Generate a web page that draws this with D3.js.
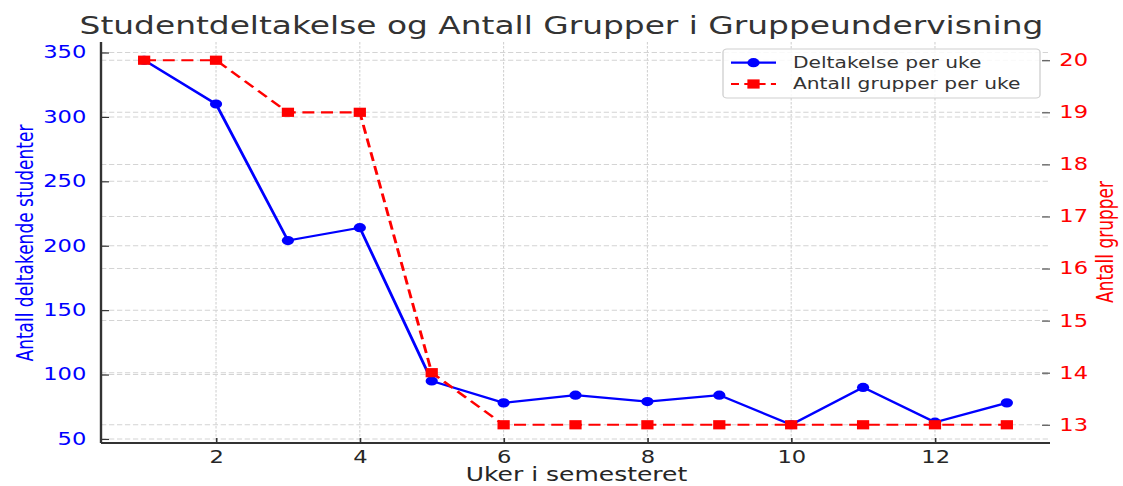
<!DOCTYPE html>
<html>
<head>
<meta charset="utf-8">
<script src="https://cdn.jsdelivr.net/npm/d3@7"></script>
<style>
  html, body { margin: 0; padding: 0; background: #fff; }
  svg { display: block; }
  text { font-family: "DejaVu Sans", sans-serif; }
</style>
</head>
<body>
<svg id="chart"></svg>
<script>
// data
const weeks = [1, 2, 3, 4, 5, 6, 7, 8, 9, 10, 11, 12, 13];
const deltakelse = [344, 310, 204, 214, 95, 78, 84, 79, 84, 61, 90, 63, 78];
const grupper = [20, 20, 19, 19, 14, 13, 13, 13, 13, 13, 13, 13, 13];
const xTicks = [2, 4, 6, 8, 10, 12];
const leftTicks = [50, 100, 150, 200, 250, 300, 350];
const rightTicks = [13, 14, 15, 16, 17, 18, 19, 20];

const W = 1123, H = 486;
const S = 1.33;              // bildet er strukket horisontalt
const X = px => px / S;      // fra ferdig piksel til viewBox-enhet

const pLeft = 101, pRight = 1050, pTop = 42, pBottom = 443;

const svg = d3.select("#chart")
  .attr("width", W)
  .attr("height", H)
  .attr("viewBox", `0 0 ${W / S} ${H}`)
  .attr("preserveAspectRatio", "none");

const x = d3.scaleLinear().domain([0.4, 13.6]).range([X(pLeft), X(pRight)]);
const yL = d3.scaleLinear().domain([46.85, 358.15]).range([pBottom, pTop]);
const yR = d3.scaleLinear().domain([12.65, 20.35]).range([pBottom, pTop]);

// rutenett
const grid = svg.append("g");
xTicks.forEach(t => {
  grid.append("line")
    .attr("x1", x(t)).attr("x2", x(t))
    .attr("y1", pTop).attr("y2", pBottom)
    .attr("stroke", "#d0d0d0").attr("stroke-width", 0.8)
    .attr("stroke-dasharray", "2.5,1.5");
});
leftTicks.forEach(t => {
  grid.append("line")
    .attr("x1", X(pLeft)).attr("x2", X(pRight))
    .attr("y1", yL(t)).attr("y2", yL(t))
    .attr("stroke", "#d4d4d4").attr("stroke-width", 1)
    .attr("stroke-dasharray", "4,2");
});
rightTicks.forEach(t => {
  grid.append("line")
    .attr("x1", X(pLeft)).attr("x2", X(pRight))
    .attr("y1", yR(t)).attr("y2", yR(t))
    .attr("stroke", "#d4d4d4").attr("stroke-width", 1)
    .attr("stroke-dasharray", "4,2");
});

// akser
const axL = svg.append("g")
  .attr("transform", `translate(${X(pLeft)},0)`)
  .call(d3.axisLeft(yL).tickValues(leftTicks).tickSize(-6).tickPadding(11));
axL.select(".domain").remove();
axL.selectAll(".tick line").attr("stroke", "#333").attr("stroke-width", 1.2);
axL.selectAll(".tick text").attr("fill", "#0000ff").attr("font-size", 17);

const axR = svg.append("g")
  .attr("transform", `translate(${X(pRight)},0)`)
  .call(d3.axisRight(yR).tickValues(rightTicks).tickSize(-6).tickPadding(7));
axR.select(".domain").remove();
axR.selectAll(".tick line").attr("stroke", "#555").attr("stroke-width", 1.2);
axR.selectAll(".tick text").attr("fill", "#ff0000").attr("font-size", 17);

const axB = svg.append("g")
  .attr("transform", `translate(0,${pBottom})`)
  .call(d3.axisBottom(x).tickValues(xTicks).tickSize(-5).tickPadding(8));
axB.select(".domain").remove();
axB.selectAll(".tick line").attr("stroke", "#333").attr("stroke-width", 1.2);
axB.selectAll(".tick text").attr("fill", "#262626").attr("font-size", 17);

// linjer
const lineL = d3.line().x((d, i) => x(weeks[i])).y(d => yL(d));
const lineR = d3.line().x((d, i) => x(weeks[i])).y(d => yR(d));

svg.append("path")
  .datum(deltakelse)
  .attr("d", lineL)
  .attr("fill", "none")
  .attr("stroke", "#0000ff")
  .attr("stroke-width", 2.2);
svg.selectAll(".pt-blue")
  .data(deltakelse)
  .join("ellipse")
  .attr("class", "pt-blue")
  .attr("cx", (d, i) => x(weeks[i]))
  .attr("cy", d => yL(d))
  .attr("rx", 4.6).attr("ry", 4.6)
  .attr("fill", "#0000ff");

svg.append("path")
  .datum(grupper)
  .attr("d", lineR)
  .attr("fill", "none")
  .attr("stroke", "#ff0000")
  .attr("stroke-width", 2.2)
  .attr("stroke-dasharray", "9,5");
svg.selectAll(".pt-red")
  .data(grupper)
  .join("rect")
  .attr("class", "pt-red")
  .attr("x", (d, i) => x(weeks[i]) - 4.6)
  .attr("y", d => yR(d) - 4.6)
  .attr("width", 9.2).attr("height", 9.2)
  .attr("fill", "#ff0000");

// spines
svg.append("line")
  .attr("x1", X(pLeft)).attr("x2", X(pLeft))
  .attr("y1", pTop).attr("y2", pBottom)
  .attr("stroke", "#333").attr("stroke-width", 1.8);
svg.append("line")
  .attr("x1", X(pLeft)).attr("x2", X(pRight))
  .attr("y1", pBottom).attr("y2", pBottom)
  .attr("stroke", "#333").attr("stroke-width", 1.8);

// tekst
svg.append("text")
  .attr("x", X(561.5)).attr("y", 34)
  .attr("text-anchor", "middle")
  .attr("font-size", 24.7)
  .attr("fill", "#333")
  .text("Studentdeltakelse og Antall Grupper i Gruppeundervisning");

svg.append("text")
  .attr("x", X(576.5)).attr("y", 481.5)
  .attr("text-anchor", "middle")
  .attr("font-size", 18.8)
  .attr("fill", "#262626")
  .text("Uker i semesteret");

svg.append("text")
  .attr("transform", `translate(${X(33)},243) rotate(-90)`)
  .attr("text-anchor", "middle")
  .attr("font-size", 17)
  .attr("fill", "#0000ff")
  .text("Antall deltakende studenter");

svg.append("text")
  .attr("transform", `translate(${X(1113)},242) rotate(-90)`)
  .attr("text-anchor", "middle")
  .attr("font-size", 17)
  .attr("fill", "#ff0000")
  .text("Antall grupper");

// legende
const lg = svg.append("g");
lg.append("rect")
  .attr("x", X(723)).attr("y", 49)
  .attr("width", X(1040) - X(723)).attr("height", 49)
  .attr("rx", 3)
  .attr("fill", "#fff").attr("fill-opacity", 0.85)
  .attr("stroke", "#d0d0d0").attr("stroke-width", 1);

const legendItems = [
  { label: "Deltakelse per uke", color: "#0000ff", dash: null, shape: "circle", y: 62.7 },
  { label: "Antall grupper per uke", color: "#ff0000", dash: "6,4", shape: "square", y: 84 }
];
legendItems.forEach(it => {
  lg.append("line")
    .attr("x1", X(731)).attr("x2", X(776))
    .attr("y1", it.y).attr("y2", it.y)
    .attr("stroke", it.color).attr("stroke-width", 2.2)
    .attr("stroke-dasharray", it.dash);
  const cx = X(753.5);
  if (it.shape === "circle") {
    lg.append("circle").attr("cx", cx).attr("cy", it.y).attr("r", 4.6).attr("fill", it.color);
  } else {
    lg.append("rect").attr("x", cx - 4.6).attr("y", it.y - 4.6)
      .attr("width", 9.2).attr("height", 9.2).attr("fill", it.color);
  }
  lg.append("text")
    .attr("x", X(793)).attr("y", it.y)
    .attr("dy", "0.36em")
    .attr("font-size", 15.2)
    .attr("fill", "#333")
    .text(it.label);
});
</script>
</body>
</html>
